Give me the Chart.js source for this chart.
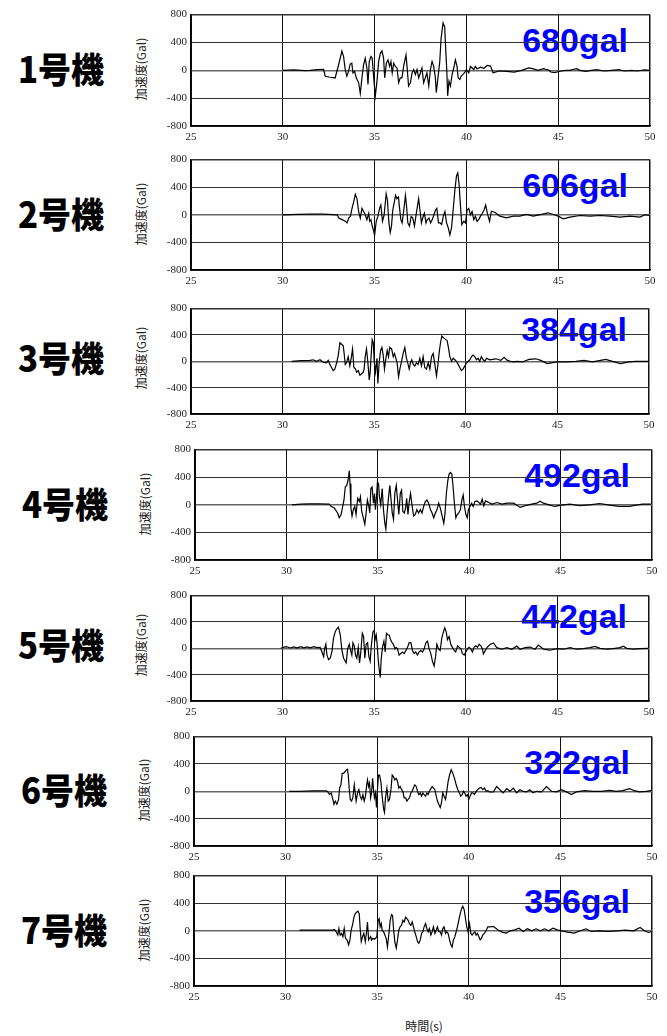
<!DOCTYPE html>
<html>
<head>
<meta charset="utf-8">
<script src="https://cdn.jsdelivr.net/npm/chart.js@4.4.1/dist/chart.umd.min.js"></script>
<style>
body { margin: 0; background: #fff; }
#page { position: relative; width: 667px; height: 1036px; overflow: hidden; background: #fff; }
#page canvas { position: absolute; z-index: 2; }
.unit { position: absolute; z-index: 1; font-family: "Noto Sans CJK JP"; font-weight: 900; font-size: 33px; line-height: 34px; color: #000; white-space: nowrap; transform: scaleY(1.08); transform-origin: 0 50%; }
.ytitle { position: absolute; z-index: 1; font: 12px "Noto Sans CJK JP"; line-height: 12px; color: #222; white-space: nowrap; transform: translate(-50%, -50%) rotate(-90deg); }
.peak { position: absolute; z-index: 1; font: bold 34px "Liberation Sans"; line-height: 34px; color: #0000ff; white-space: nowrap; }
.xtitle { position: absolute; z-index: 1; font: 12px "Noto Sans CJK JP"; line-height: 12px; color: #222; white-space: nowrap; transform: translate(-50%, -50%); }
</style>
</head>
<body>
<div id="page"></div>
<script>
// unit names and peak accelerations (gal)
var unitNames = ['1号機', '2号機', '3号機', '4号機', '5号機', '6号機', '7号機'];
var peakGal = [680, 606, 384, 492, 442, 322, 356];

var xTicks = [25, 30, 35, 40, 45, 50];
var yTicks = [-800, -400, 0, 400, 800];

// time (s), acceleration (Gal)
var unit1 = [[30,0],[30.6,5],[31.2,-5],[31.49,0],[31.85,10],[32.22,15],[32.31,-85],[32.58,-100],[32.85,-110],[33.04,80],[33.22,277],[33.31,197],[33.4,10],[33.49,-85],[33.58,-15],[33.67,89],[33.76,103],[33.82,-38],[33.91,-14],[34,-108],[34.13,-179],[34.22,-333],[34.31,-108],[34.4,80],[34.49,174],[34.58,33],[34.64,-202],[34.71,127],[34.8,197],[34.87,174],[34.95,-108],[35.04,-367],[35.13,-155],[35.22,127],[35.31,244],[35.4,277],[35.49,174],[35.55,-108],[35.64,103],[35.73,150],[35.82,56],[35.89,127],[35.96,-38],[36.04,103],[36.13,56],[36.22,33],[36.31,-179],[36.4,-108],[36.49,-108],[36.58,56],[36.71,221],[36.76,80],[36.85,-226],[36.95,-179],[37.04,-38],[37.13,10],[37.22,-61],[37.31,10],[37.4,-108],[37.49,-38],[37.58,33],[37.67,-179],[37.76,-108],[37.85,-38],[37.95,-226],[38.04,10],[38.13,127],[38.22,56],[38.31,-108],[38.36,-320],[38.45,-108],[38.55,127],[38.62,456],[38.73,680],[38.82,620],[38.87,315],[38.93,10],[38.98,-367],[39.05,-155],[39.13,-226],[39.22,-61],[39.31,33],[39.4,150],[39.49,56],[39.55,-108],[39.64,-132],[39.71,-85],[39.8,-61],[39.89,-38],[40,10],[40.13,-38],[40.22,56],[40.31,33],[40.4,10],[40.49,56],[40.58,20],[40.76,45],[40.95,30],[41.13,70],[41.31,60],[41.45,-34],[41.8,-10],[42.2,-15],[42.6,-25],[43,0],[43.4,34],[43.6,24],[43.9,0],[44.2,24],[44.5,0],[44.6,-24],[44.8,-34],[45.1,-14],[45.4,0],[45.6,0],[46,24],[46.2,0],[46.5,-14],[46.8,0],[47.1,10],[47.5,-10],[47.9,0],[48.3,10],[48.6,-10],[49,0],[49.3,-10],[49.7,5],[50,0]];

var unit2 = [[30,0],[30.8,5],[31.52,10],[32.24,10],[32.96,0],[33.05,-47],[33.23,-70],[33.41,-94],[33.5,-118],[33.59,-47],[33.68,-23],[33.77,94],[33.86,188],[33.95,296],[34.04,235],[34.13,47],[34.22,-47],[34.31,94],[34.4,47],[34.49,0],[34.58,-70],[34.68,23],[34.73,-94],[34.8,-70],[34.87,-164],[34.95,-235],[35,-296],[35.09,-94],[35.18,-23],[35.27,94],[35.34,141],[35.43,-94],[35.52,0],[35.63,305],[35.7,211],[35.78,-118],[35.85,-258],[35.92,-164],[35.99,70],[36.06,164],[36.14,282],[36.21,235],[36.3,258],[36.35,118],[36.43,-70],[36.5,-118],[36.59,70],[36.68,282],[36.75,94],[36.81,-118],[36.9,-164],[36.99,-23],[37.08,-47],[37.17,-164],[37.26,0],[37.33,118],[37.4,235],[37.47,70],[37.55,-118],[37.62,-47],[37.71,23],[37.8,-118],[37.87,-70],[37.96,-47],[38.05,-118],[38.14,-70],[38.23,0],[38.32,70],[38.39,94],[38.48,-118],[38.56,-118],[38.65,-141],[38.74,-23],[38.83,47],[38.92,-118],[39.01,-188],[39.1,-291],[39.19,-188],[39.28,70],[39.37,352],[39.46,564],[39.53,606],[39.6,446],[39.68,118],[39.75,-141],[39.86,-94],[39.95,-118],[40.04,70],[40.13,94],[40.22,0],[40.31,47],[40.4,-70],[40.49,-23],[40.58,-94],[40.67,-70],[40.76,-23],[40.87,23],[40.96,70],[41.05,141],[41.14,23],[41.26,-94],[41.36,53],[41.55,38],[41.82,-19],[42.18,-43],[42.55,-19],[42.91,-19],[43.27,5],[43.64,-19],[44.09,5],[44.45,29],[44.73,5],[45,-19],[45.27,-58],[45.64,-34],[46.18,-10],[46.73,-19],[47.27,-10],[47.82,-19],[48.36,-34],[48.91,-19],[49.45,-34],[49.73,0],[50,-10]];

var unit3 = [[30.5,0],[31,10],[31.49,14],[31.67,23],[31.85,0],[32.04,23],[32.22,-14],[32.4,-23],[32.49,14],[32.58,-47],[32.67,-94],[32.76,-141],[32.85,-118],[32.95,-23],[33.04,94],[33.13,282],[33.22,258],[33.31,235],[33.36,118],[33.42,-47],[33.49,-23],[33.58,70],[33.67,-70],[33.76,70],[33.82,188],[33.89,-94],[33.98,-118],[34.04,-164],[34.13,-141],[34.22,-211],[34.31,-188],[34.4,-164],[34.45,-118],[34.51,70],[34.58,188],[34.65,0],[34.73,-282],[34.78,-164],[34.84,118],[34.89,329],[34.95,282],[35,0],[35.07,-164],[35.15,47],[35.2,-338],[35.27,-23],[35.35,164],[35.42,211],[35.49,94],[35.56,-118],[35.64,47],[35.71,164],[35.78,70],[35.85,211],[35.95,188],[36.04,70],[36.11,118],[36.18,47],[36.25,-23],[36.33,-235],[36.4,-118],[36.49,0],[36.58,118],[36.67,211],[36.76,47],[36.85,-47],[36.91,-118],[36.98,-23],[37.05,23],[37.13,-47],[37.22,-70],[37.31,-23],[37.4,-47],[37.49,47],[37.58,-70],[37.67,70],[37.76,-94],[37.85,-118],[37.95,-23],[38.04,-118],[38.13,70],[38.22,118],[38.31,-47],[38.4,-221],[38.47,-70],[38.55,141],[38.62,282],[38.69,384],[38.8,352],[38.91,329],[38.98,315],[39.05,211],[39.13,70],[39.22,0],[39.31,47],[39.4,23],[39.49,0],[39.58,-47],[39.67,-94],[39.76,-141],[39.85,-118],[39.95,-70],[40.04,-23],[40.13,0],[40.22,23],[40.31,70],[40.4,94],[40.49,70],[40.58,23],[40.67,47],[40.76,0],[40.85,70],[40.95,23],[41.04,0],[41.13,47],[41.31,23],[41.64,38],[41.91,14],[42.09,62],[42.27,14],[42.55,-10],[42.82,0],[43.09,-10],[43.45,29],[43.82,38],[44.09,14],[44.45,-34],[44.73,-19],[45,-10],[45.45,-10],[46,0],[46.45,14],[46.91,-10],[47.36,14],[47.64,29],[48,0],[48.45,-34],[48.91,-10],[49.27,0],[49.64,0],[50,0]];

var unit4 = [[30.3,0],[30.8,10],[31.25,14],[31.79,14],[32.34,10],[32.44,-23],[32.62,-47],[32.8,-118],[32.89,-188],[32.99,-141],[33.08,-23],[33.15,70],[33.22,258],[33.3,282],[33.37,352],[33.44,492],[33.48,305],[33.53,-47],[33.59,-164],[33.66,-70],[33.74,-23],[33.81,-141],[33.9,94],[33.99,47],[34.05,118],[34.12,-94],[34.21,-188],[34.29,-282],[34.36,-118],[34.43,70],[34.51,-23],[34.56,-118],[34.62,235],[34.69,258],[34.76,23],[34.82,164],[34.87,-70],[34.93,118],[34.98,329],[35.04,305],[35.09,118],[35.16,0],[35.24,235],[35.31,-70],[35.38,-258],[35.44,-352],[35.51,-118],[35.59,118],[35.66,282],[35.71,118],[35.79,-118],[35.86,-211],[35.93,164],[36.01,282],[36.08,70],[36.15,-141],[36.23,164],[36.3,211],[36.37,-94],[36.45,-118],[36.52,-47],[36.58,94],[36.65,-141],[36.72,47],[36.79,164],[36.87,0],[36.96,-164],[37.05,-141],[37.14,-70],[37.23,-118],[37.33,-70],[37.42,-118],[37.51,-23],[37.6,47],[37.69,70],[37.78,23],[37.88,-70],[37.97,-118],[38.06,-188],[38.15,-118],[38.24,-70],[38.33,23],[38.42,-47],[38.52,-164],[38.61,-268],[38.68,-118],[38.75,164],[38.83,352],[38.9,446],[38.97,470],[39.05,446],[39.12,258],[39.19,23],[39.27,-188],[39.34,-141],[39.43,-118],[39.52,-70],[39.6,70],[39.67,141],[39.74,-23],[39.82,-141],[39.89,-188],[39.96,-70],[40.04,-23],[40.13,23],[40.22,-23],[40.31,47],[40.43,57],[40.62,10],[40.71,81],[40.8,-14],[40.89,57],[41.07,33],[41.25,10],[41.52,33],[41.79,10],[42.07,24],[42.43,24],[42.79,-38],[43.06,-14],[43.42,10],[43.7,24],[43.88,52],[44.06,24],[44.42,-5],[44.69,-24],[45.05,-5],[45.51,10],[46.05,-14],[46.59,0],[47.14,19],[47.68,-5],[48.22,-24],[48.77,-24],[49.13,-5],[49.49,10],[49.95,10]];

var unit5 = [[29.9,0],[30,10],[30.2,25],[30.42,5],[30.6,22],[30.78,8],[31,24],[31.15,6],[31.35,22],[31.51,8],[31.7,25],[31.87,10],[32.05,14],[32.15,-56],[32.24,-127],[32.29,-9],[32.36,61],[32.42,-103],[32.51,-174],[32.6,-150],[32.69,-56],[32.78,155],[32.87,249],[32.96,296],[33.05,320],[33.15,202],[33.24,-33],[33.33,-150],[33.42,-197],[33.47,-221],[33.55,-9],[33.64,61],[33.69,-9],[33.78,-103],[33.84,85],[33.91,38],[33.98,-103],[34.05,-150],[34.13,14],[34.2,-221],[34.27,-56],[34.35,226],[34.42,179],[34.49,-150],[34.56,61],[34.64,85],[34.71,-127],[34.78,-197],[34.85,61],[34.93,249],[35,273],[35.05,132],[35.11,202],[35.16,61],[35.22,-174],[35.27,-315],[35.33,-442],[35.38,-174],[35.45,14],[35.53,108],[35.6,-56],[35.67,226],[35.75,202],[35.82,202],[35.89,132],[35.98,85],[36.05,61],[36.13,-9],[36.2,14],[36.27,-9],[36.36,-103],[36.45,-80],[36.55,-56],[36.64,-80],[36.73,-33],[36.82,14],[36.91,85],[37,85],[37.09,-33],[37.18,-80],[37.27,-56],[37.36,-103],[37.45,-56],[37.55,-33],[37.64,-56],[37.73,-9],[37.82,85],[37.91,108],[38,-9],[38.09,-80],[38.18,-197],[38.27,-268],[38.35,-127],[38.42,61],[38.51,-9],[38.6,-33],[38.69,155],[38.78,249],[38.85,310],[38.93,249],[39,132],[39.09,179],[39.18,61],[39.27,14],[39.36,-33],[39.45,-56],[39.55,38],[39.64,14],[39.73,-9],[39.82,-80],[39.91,-103],[40,-56],[40.09,-9],[40.18,14],[40.27,-9],[40.36,-56],[40.45,14],[40.55,38],[40.64,14],[40.73,61],[40.82,38],[40.91,-9],[40.96,-86],[41.15,10],[41.33,57],[41.51,81],[41.69,10],[41.96,-14],[42.24,10],[42.51,-14],[42.78,33],[42.96,-14],[43.24,10],[43.51,19],[43.78,-14],[43.96,48],[44.24,-14],[44.6,-29],[44.96,-5],[45.33,-14],[45.69,10],[46.05,-14],[46.42,-5],[46.78,10],[47.05,29],[47.33,0],[47.69,-14],[48.05,-5],[48.42,10],[48.6,33],[48.78,0],[49.15,-14],[49.51,-5],[49.96,0]];

var unit6 = [[30.2,0],[30.76,0],[31.49,5],[32.22,5],[32.31,-10],[32.4,-48],[32.49,-24],[32.58,-119],[32.64,-190],[32.71,-143],[32.8,-190],[32.89,-119],[32.95,48],[33.02,95],[33.09,262],[33.16,262],[33.24,286],[33.31,310],[33.38,322],[33.42,238],[33.47,48],[33.53,-119],[33.6,-143],[33.67,-95],[33.75,95],[33.8,-24],[33.85,-143],[33.93,-24],[34,24],[34.07,-71],[34.15,-119],[34.22,-48],[34.29,-143],[34.36,-71],[34.42,71],[34.47,167],[34.53,71],[34.58,119],[34.64,-95],[34.69,-24],[34.75,190],[34.8,24],[34.85,-95],[34.91,-24],[34.96,-238],[35.02,48],[35.07,238],[35.13,238],[35.2,143],[35.27,-71],[35.35,-262],[35.4,-310],[35.45,-95],[35.53,48],[35.6,-143],[35.67,-119],[35.75,24],[35.82,238],[35.89,214],[35.96,167],[36.04,190],[36.11,143],[36.18,48],[36.25,71],[36.33,24],[36.4,0],[36.47,-95],[36.55,-95],[36.62,-143],[36.69,-119],[36.76,-95],[36.84,-24],[36.91,0],[36.98,48],[37.05,95],[37.13,71],[37.2,0],[37.27,-48],[37.35,-24],[37.42,-71],[37.49,-24],[37.56,-48],[37.64,-71],[37.71,-24],[37.78,-48],[37.85,0],[37.95,48],[38,71],[38.07,48],[38.15,24],[38.22,-71],[38.29,-143],[38.36,-190],[38.44,-238],[38.51,-167],[38.58,-24],[38.65,-71],[38.73,-119],[38.8,0],[38.87,143],[38.95,238],[39.04,315],[39.13,262],[39.22,190],[39.31,95],[39.4,24],[39.49,-24],[39.56,-71],[39.64,-48],[39.71,0],[39.78,-24],[39.85,-71],[39.93,-48],[40,-119],[40.07,-71],[40.15,-24],[40.22,-24],[40.31,-48],[40.4,0],[40.49,24],[40.58,48],[40.67,57],[40.76,24],[40.85,48],[40.95,0],[41.04,10],[41.13,-10],[41.34,-9],[41.52,70],[41.7,23],[41.88,-23],[42.07,38],[42.25,0],[42.43,47],[42.61,-23],[42.79,23],[42.97,0],[43.15,-9],[43.33,23],[43.51,-23],[43.7,0],[43.97,-9],[44.24,70],[44.51,0],[44.78,-9],[45.05,23],[45.33,-9],[45.6,-47],[45.87,-9],[46.32,9],[46.78,0],[47.23,0],[47.68,14],[48.04,0],[48.41,9],[48.77,38],[49.04,9],[49.31,-9],[49.67,0],[49.95,9]];

var unit7 = [[30.76,10],[31.67,10],[32.58,10],[32.67,19],[32.76,-14],[32.85,-61],[32.91,33],[32.98,-61],[33.05,-38],[33.13,-85],[33.2,33],[33.27,-109],[33.35,-132],[33.44,-203],[33.51,-132],[33.58,9],[33.67,104],[33.73,199],[33.8,246],[33.87,270],[33.95,284],[34.02,246],[34.07,33],[34.13,-156],[34.2,-85],[34.27,-38],[34.35,-156],[34.42,-14],[34.47,128],[34.53,-132],[34.58,-109],[34.64,-85],[34.69,-132],[34.76,-109],[34.84,-123],[34.91,-109],[34.98,-85],[35.05,151],[35.11,175],[35.16,57],[35.22,104],[35.27,9],[35.35,-14],[35.42,-61],[35.49,-109],[35.56,-236],[35.64,-38],[35.71,151],[35.78,236],[35.84,222],[35.89,33],[35.96,-156],[36.04,-250],[36.11,-132],[36.18,9],[36.25,57],[36.33,80],[36.4,151],[36.47,128],[36.55,198],[36.62,175],[36.69,151],[36.76,104],[36.84,80],[36.91,128],[36.98,57],[37.05,-14],[37.13,-85],[37.2,-156],[37.27,-180],[37.35,-132],[37.42,-38],[37.49,-14],[37.56,57],[37.64,104],[37.71,33],[37.78,-14],[37.85,33],[37.93,-61],[38,-14],[38.07,57],[38.15,-38],[38.22,9],[38.29,57],[38.36,-14],[38.44,-14],[38.51,-61],[38.58,33],[38.65,57],[38.73,-38],[38.8,-14],[38.87,-38],[38.95,-132],[39.02,-203],[39.09,-236],[39.16,-132],[39.24,-85],[39.31,-14],[39.38,57],[39.45,151],[39.53,246],[39.6,317],[39.67,356],[39.75,303],[39.82,175],[39.89,57],[39.96,-14],[40.04,104],[40.11,-38],[40.18,-61],[40.25,-38],[40.33,-14],[40.4,-61],[40.47,-38],[40.55,-85],[40.62,-132],[40.69,-109],[40.76,-61],[40.85,-38],[40.95,9],[41.04,57],[41.13,57],[41.35,62],[41.58,14],[41.81,-19],[42.04,-33],[42.27,0],[42.51,14],[42.74,38],[42.97,-10],[43.2,29],[43.43,0],[43.67,29],[43.9,0],[44.13,29],[44.36,0],[44.59,38],[44.83,14],[45.06,0],[45.41,-19],[45.75,-33],[46.1,0],[46.4,29],[46.68,-10],[47.15,0],[47.61,-10],[48.07,0],[48.54,10],[49,0],[49.35,48],[49.58,0],[49.81,-24],[50,-10]];

var records = [unit1, unit2, unit3, unit4, unit5, unit6, unit7];

// plot box of each panel on the page: left, right, top, bottom, space above
var boxes = [
	[191, 650, 12, 126, 8],
	[191, 650, 157, 270, 8],
	[191, 649, 301, 414, 3],
	[195, 652, 447, 560, 8],
	[191, 649, 588, 701, 3],
	[194, 652, 734, 846, 8],
	[194, 652, 873, 986, 8]
];

var page = document.getElementById('page');

function addDiv(cls, text, css) {
	var d = document.createElement('div');
	d.className = cls;
	d.textContent = text;
	for (var k in css) d.style[k] = css[k];
	page.appendChild(d);
	return d;
}

var tickFont = { family: "'Liberation Serif', 'DejaVu Serif', serif", size: 11 };

function makePanel(i) {
	var b = boxes[i];
	var L = b[0], R = b[1], T = b[2], B = b[3], padTop = b[4];
	var mid = (T + B) / 2;

	addDiv('unit', unitNames[i], { left: (L - 173) + 'px', top: (mid - 18) + 'px' });
	addDiv('ytitle', '加速度(Gal)', { left: (L - 50) + 'px', top: mid + 'px' });
	addDiv('peak', peakGal[i] + 'gal', { right: (667 - (R - 22)) + 'px', top: (T + 40 - 29) + 'px' });

	var w = R - L + 60 + 14, h = B - T + padTop + 22;
	var cv = document.createElement('canvas');
	cv.width = w;
	cv.height = h;
	cv.style.width = w + 'px';
	cv.style.height = h + 'px';
	cv.style.left = (L - 60) + 'px';
	cv.style.top = (T - padTop) + 'px';
	page.appendChild(cv);

	new Chart(cv, {
		type: 'line',
		data: {
			datasets: [{
				data: records[i].map(function(p) { return { x: p[0], y: p[1] }; }),
				borderColor: '#000',
				borderWidth: 1.2,
				pointRadius: 0,
				tension: 0
			}]
		},
		options: {
			responsive: false,
			animation: false,
			devicePixelRatio: 1,
			layout: { padding: { top: padTop, right: 14, left: 0, bottom: 0 } },
			plugins: { legend: { display: false }, tooltip: { enabled: false } },
			scales: {
				x: {
					type: 'linear',
					min: xTicks[0],
					max: xTicks[xTicks.length - 1],
					afterBuildTicks: function(s) { s.ticks = xTicks.map(function(v) { return { value: v }; }); },
					afterFit: function(s) { s.height = 22; },
					ticks: { font: tickFont, color: '#222', padding: 5, autoSkip: false, maxRotation: 0 },
					grid: {
						drawTicks: false,
						color: '#111',
						lineWidth: function(c) { return (c.tick && c.tick.value === 50) ? 1.5 : 1; }
					},
					border: { display: true, color: '#000', width: 1.5 }
				},
				y: {
					min: yTicks[0],
					max: yTicks[yTicks.length - 1],
					afterBuildTicks: function(s) { s.ticks = yTicks.map(function(v) { return { value: v }; }); },
					afterFit: function(s) { s.width = 60; },
					ticks: { font: tickFont, color: '#222', padding: 4, autoSkip: false },
					grid: {
						drawTicks: false,
						color: function(c) { return (c.tick && c.tick.value === 0) ? '#666' : '#333'; },
						lineWidth: function(c) {
							if (!c.tick) return 1;
							if (c.tick.value === 800) return 1.5;
							return c.tick.value === 0 ? 1.5 : 1;
						}
					},
					border: { display: true, color: '#000', width: 1.5 }
				}
			}
		}
	});
}

for (var i = 0; i < records.length; i++) makePanel(i);

addDiv('xtitle', '時間(s)', { left: '424px', top: '1026px' });
</script>
</body>
</html>
